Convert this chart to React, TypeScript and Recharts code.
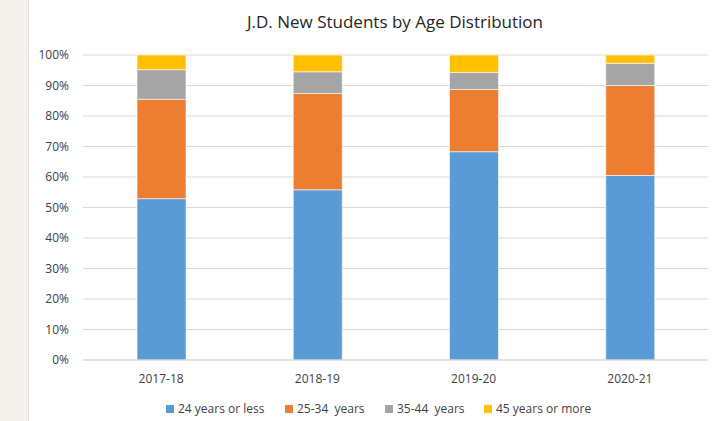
import React from "react";
import { BarChart, Bar, XAxis, YAxis, CartesianGrid } from "recharts";

const categories = ["2017-18", "2018-19", "2019-20", "2020-21"];
const age24orLess = [52.9, 55.8, 68.3, 60.5];
const age25to34 = [32.6, 31.6, 20.4, 29.5];
const age35to44 = [9.7, 7.1, 5.6, 7.3];
const age45orMore = [4.8, 5.5, 5.7, 2.7];
const yTicks = [0, 10, 20, 30, 40, 50, 60, 70, 80, 90, 100];

const seriesNames = ["24 years or less", "25-34  years", "35-44  years", "45 years or more"];
const seriesColors = ["#5B9BD5", "#ED7D31", "#A5A5A5", "#FFC000"];
const seriesKeys = ["a", "b", "c", "d"];
const legendLeft = [166, 285, 385, 484];

const data = categories.map((c, i) => ({
  name: c,
  a: age24orLess[i],
  b: age25to34[i],
  c: age35to44[i],
  d: age45orMore[i],
}));

const FONT = "'Open Sans', 'Liberation Sans', sans-serif";

export default function App() {
  return (
    <div style={{ position: "absolute", left: 0, top: 0, width: 715, height: 421, background: "#fff", fontFamily: FONT, overflow: "hidden" }}>
      <div style={{ position: "absolute", left: 0, top: 0, width: 28, height: 421, background: "#F4F0EC", borderRight: "1px solid #E2DED9" }} />
      <div style={{ position: "absolute", left: 0, top: 10, width: 790, textAlign: "center", fontSize: 17, color: "#262626", whiteSpace: "nowrap" }}>
        J.D. New Students by Age Distribution
      </div>
      <div style={{ position: "absolute", left: 0, top: 0 }}>
        <BarChart width={715} height={421} data={data} margin={{ top: 55, right: 7, left: 0, bottom: 31 }} barCategoryGap="34%">
          <CartesianGrid vertical={false} stroke="#D9D9D9" strokeWidth={1} />
          <XAxis dataKey="name" axisLine={{ stroke: "#D9D9D9" }} tickLine={false} height={30} tickMargin={8}
            tick={{ fill: "#404040", fontSize: 12, fontFamily: FONT }} />
          <YAxis width={83} domain={[0, 100]} ticks={yTicks} interval={0} axisLine={false} tickLine={false} tickMargin={8}
            tickFormatter={(v: number) => `${v}%`} tick={{ fill: "#404040", fontSize: 12, fontFamily: FONT }} />
          {seriesKeys.map((k, i) => (
            <Bar key={k} dataKey={k} stackId="s" fill={seriesColors[i]} stroke="#ffffff" strokeWidth={0.6} barSize={49} isAnimationActive={false} />
          ))}
        </BarChart>
      </div>
      {seriesNames.map((n, i) => (
        <div key={n} style={{ position: "absolute", top: 400, left: legendLeft[i], display: "flex", alignItems: "center", fontSize: 12, color: "#404040", whiteSpace: "pre" }}>
          <span style={{ display: "inline-block", width: 8, height: 8, background: seriesColors[i], marginRight: 4 }} />
          <span>{n}</span>
        </div>
      ))}
    </div>
  );
}
